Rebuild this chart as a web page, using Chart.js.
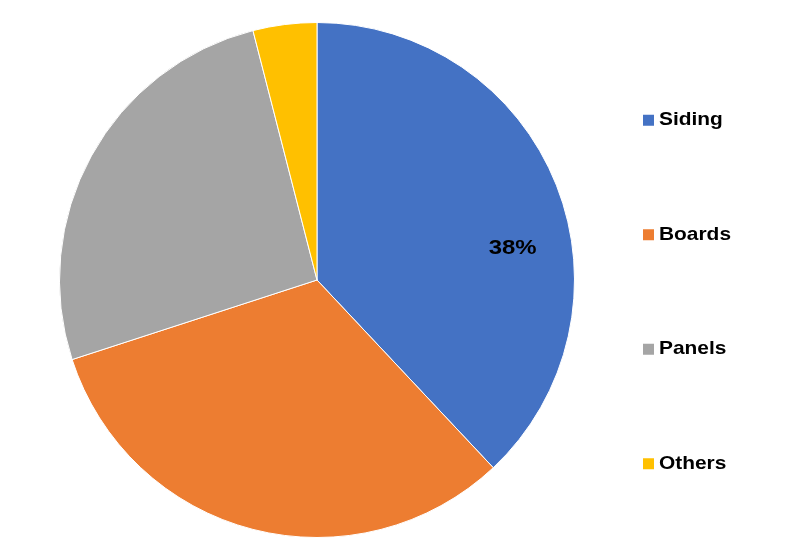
<!DOCTYPE html>
<html>
<head>
<meta charset="utf-8">
<script src="https://cdn.jsdelivr.net/npm/chart.js@4"></script>
<style>
  html, body { margin: 0; padding: 0; background: #fff; }
  #wrap { width: 800px; height: 552px; }
</style>
</head>
<body>
<div id="wrap"><canvas id="pie"></canvas></div>
<script>
const categories = ['Siding', 'Boards', 'Panels', 'Others'];
const shares = [38, 32, 26, 4];
const sliceLabels = ['38%', '', '', ''];
const colors = ['#4472C4', '#ED7D31', '#A5A5A5', '#FFC000'];

// data label for the slices that show one (Excel "best fit" spot)
const sliceLabelPlugin = {
    id: 'sliceLabel',
    afterDatasetsDraw(chart) {
        const ctx = chart.ctx;
        chart.getDatasetMeta(0).data.forEach((arc, i) => {
            if (!sliceLabels[i]) return;
            const p = arc.getProps(['x', 'y', 'startAngle', 'endAngle', 'outerRadius'], true);
            const a = p.startAngle + 0.59 * (p.endAngle - p.startAngle);
            const r = 0.77 * p.outerRadius;
            ctx.save();
            ctx.translate(p.x + Math.cos(a) * r, p.y + Math.sin(a) * r);
            ctx.scale(1.14, 1);
            ctx.font = 'bold 21px "Liberation Sans", Arial, sans-serif';
            ctx.fillStyle = '#000';
            ctx.textAlign = 'center';
            ctx.textBaseline = 'middle';
            ctx.fillText(sliceLabels[i], 0, 0);
            ctx.restore();
        });
    }
};

// legend on the right, spread out like the Excel one
const sideLegendPlugin = {
    id: 'sideLegend',
    afterDraw(chart) {
        const ctx = chart.ctx;
        const area = chart.chartArea;
        const midY = (area.top + area.bottom) / 2 + 12;
        const step = 114.5;
        const x = 643;
        chart.data.labels.forEach((lbl, i) => {
            const y = midY + (i - 1.5) * step;
            ctx.save();
            ctx.fillStyle = colors[i];
            ctx.fillRect(x, y - 5.5, 11, 11);
            ctx.translate(x + 16, y);
            ctx.scale(1.1, 1);
            ctx.font = 'bold 19px "Liberation Sans", Arial, sans-serif';
            ctx.fillStyle = '#000';
            ctx.textAlign = 'left';
            ctx.textBaseline = 'middle';
            ctx.fillText(lbl, 0, 0);
            ctx.restore();
        });
    }
};

new Chart(document.getElementById('pie'), {
    type: 'pie',
    data: {
        labels: categories,
        datasets: [{
            data: shares,
            backgroundColor: colors,
            borderColor: '#fff',
            borderWidth: 1,
            clip: false
        }]
    },
    options: {
        responsive: true,
        maintainAspectRatio: false,
        animation: false,
        layout: { padding: { left: 59, right: 225, top: 22, bottom: 14 } },
        plugins: {
            legend: { display: false },
            tooltip: { enabled: false }
        }
    },
    plugins: [sliceLabelPlugin, sideLegendPlugin]
});
</script>
</body>
</html>
